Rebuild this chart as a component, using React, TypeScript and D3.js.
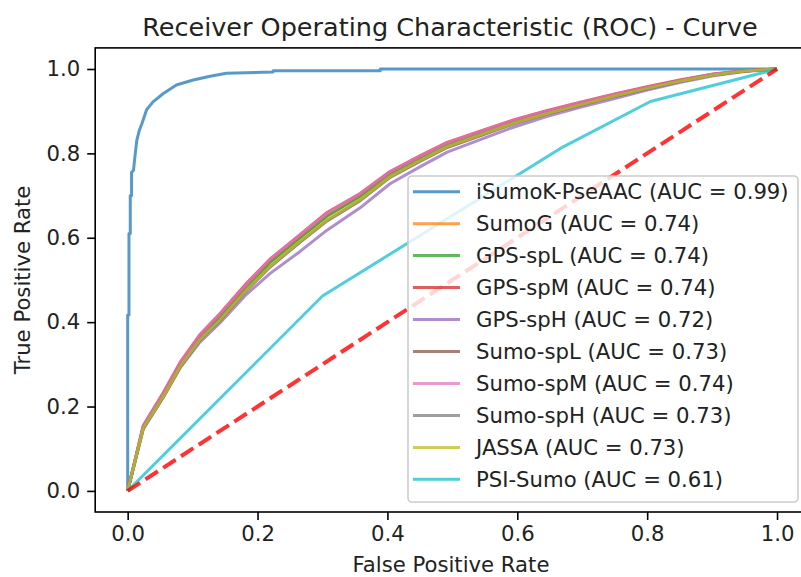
import React, { useRef, useEffect } from "react";
import * as d3 from "d3";

// series names + AUC labels (legend order)
const names = [
  "iSumoK-PseAAC (AUC = 0.99)",
  "SumoG (AUC = 0.74)",
  "GPS-spL (AUC = 0.74)",
  "GPS-spM (AUC = 0.74)",
  "GPS-spH (AUC = 0.72)",
  "Sumo-spL (AUC = 0.73)",
  "Sumo-spM (AUC = 0.74)",
  "Sumo-spH (AUC = 0.73)",
  "JASSA (AUC = 0.73)",
  "PSI-Sumo (AUC = 0.61)",
];
const colors = ["#1f77b4", "#ff7f0e", "#2ca02c", "#d62728", "#9467bd", "#8c564b", "#e377c2", "#7f7f7f", "#bcbd22", "#17becf"];

// iSumoK-PseAAC curve
const isumokFpr = [0, 0, 0.002, 0.002, 0.004, 0.004, 0.006, 0.006, 0.009, 0.011, 0.014, 0.018, 0.022, 0.029, 0.039, 0.055, 0.075, 0.101, 0.127, 0.152, 0.224, 0.224, 0.389, 0.389, 1];
const isumokTpr = [0, 0.417, 0.417, 0.61, 0.61, 0.70, 0.70, 0.755, 0.76, 0.79, 0.83, 0.855, 0.871, 0.903, 0.922, 0.942, 0.962, 0.974, 0.983, 0.99, 0.993, 0.996, 0.996, 1, 1];

// shared fpr grid for the 8 tools that sit close together
const toolFpr = [0, 0.024, 0.055, 0.081, 0.111, 0.142, 0.183, 0.219, 0.265, 0.307, 0.358, 0.404, 0.45, 0.492, 0.545, 0.594, 0.645, 0.697, 0.75, 0.8, 0.85, 0.902, 0.95, 1];
const sumoGTpr = [0, 0.152, 0.229, 0.300, 0.364, 0.413, 0.485, 0.542, 0.600, 0.652, 0.699, 0.752, 0.789, 0.821, 0.850, 0.875, 0.898, 0.918, 0.939, 0.956, 0.972, 0.987, 0.995, 1];
const gpsLTpr = [0, 0.151, 0.228, 0.299, 0.363, 0.412, 0.484, 0.541, 0.599, 0.651, 0.698, 0.751, 0.788, 0.820, 0.849, 0.875, 0.897, 0.918, 0.938, 0.956, 0.972, 0.987, 0.995, 1];
const gpsMTpr = [0, 0.155, 0.233, 0.305, 0.370, 0.420, 0.492, 0.549, 0.607, 0.660, 0.705, 0.757, 0.794, 0.826, 0.854, 0.879, 0.901, 0.921, 0.941, 0.958, 0.974, 0.988, 0.996, 1];
const gpsHTpr = [0, 0.146, 0.222, 0.292, 0.352, 0.398, 0.466, 0.515, 0.567, 0.618, 0.671, 0.728, 0.768, 0.803, 0.834, 0.862, 0.887, 0.909, 0.930, 0.950, 0.968, 0.984, 0.994, 1];
const sumoLTpr = [0, 0.148, 0.223, 0.294, 0.357, 0.404, 0.475, 0.531, 0.589, 0.640, 0.688, 0.743, 0.781, 0.814, 0.843, 0.870, 0.893, 0.914, 0.935, 0.953, 0.970, 0.986, 0.995, 1];
const sumoMTpr = [0, 0.154, 0.232, 0.304, 0.369, 0.419, 0.490, 0.548, 0.606, 0.658, 0.704, 0.756, 0.793, 0.825, 0.853, 0.878, 0.900, 0.920, 0.940, 0.957, 0.973, 0.988, 0.996, 1];
const sumoHTpr = [0, 0.149, 0.224, 0.294, 0.357, 0.404, 0.475, 0.530, 0.589, 0.641, 0.689, 0.744, 0.782, 0.815, 0.844, 0.870, 0.893, 0.914, 0.935, 0.953, 0.971, 0.986, 0.995, 1];
const jassaTpr = [0, 0.149, 0.224, 0.295, 0.358, 0.405, 0.476, 0.532, 0.591, 0.642, 0.690, 0.745, 0.783, 0.816, 0.845, 0.871, 0.894, 0.915, 0.936, 0.954, 0.971, 0.986, 0.995, 1];

// PSI-Sumo has only a few thresholds
const psiFpr = [0, 0.3, 0.67, 0.805, 1];
const psiTpr = [0, 0.462, 0.815, 0.923, 1];

const ticks = [0, 0.2, 0.4, 0.6, 0.8, 1.0];

export default function App() {
  const ref = useRef<SVGSVGElement>(null);

  useEffect(() => {
    const width = 801;
    const height = 577;
    const font = "DejaVu Sans";
    const fs = 21.2;

    const x = d3.scaleLinear().domain([-0.05, 1.05]).range([95.2, 809.5]);
    const y = d3.scaleLinear().domain([-0.05, 1.05]).range([512, 47.9]);

    const svg = d3.select(ref.current).html("").attr("width", width).attr("height", height);

    svg.append("rect").attr("width", width).attr("height", height).attr("fill", "white");

    const clip = svg.append("clipPath").attr("id", "plot-clip");
    clip.append("rect").attr("x", 95.2).attr("y", 47.9).attr("width", 809.5 - 95.2).attr("height", 512 - 47.9);

    const pair = (fpr: number[], tpr: number[]) => fpr.map((v, i) => [v, tpr[i]] as [number, number]);
    const series = [
      pair(isumokFpr, isumokTpr),
      pair(toolFpr, sumoGTpr),
      pair(toolFpr, gpsLTpr),
      pair(toolFpr, gpsMTpr),
      pair(toolFpr, gpsHTpr),
      pair(toolFpr, sumoLTpr),
      pair(toolFpr, sumoMTpr),
      pair(toolFpr, sumoHTpr),
      pair(toolFpr, jassaTpr),
      pair(psiFpr, psiTpr),
    ];

    const line = d3
      .line<[number, number]>()
      .x((d) => x(d[0]))
      .y((d) => y(d[1]));

    const plot = svg.append("g").attr("clip-path", "url(#plot-clip)");

    series.forEach((s, i) => {
      plot
        .append("path")
        .datum(s)
        .attr("fill", "none")
        .attr("stroke", colors[i])
        .attr("stroke-opacity", 0.75)
        .attr("stroke-width", 3)
        .attr("stroke-linejoin", "round")
        .attr("d", line);
    });

    // chance line
    plot
      .append("path")
      .datum([[0, 0], [1, 1]] as [number, number][])
      .attr("fill", "none")
      .attr("stroke", "#ff0000")
      .attr("stroke-opacity", 0.8)
      .attr("stroke-width", 4)
      .attr("stroke-dasharray", "14.8,6.4")
      .attr("d", line);

    // spines
    svg
      .append("rect")
      .attr("x", 95.2)
      .attr("y", 47.9)
      .attr("width", 809.5 - 95.2)
      .attr("height", 512 - 47.9)
      .attr("fill", "none")
      .attr("stroke", "black")
      .attr("stroke-width", 1.6);

    // x axis
    const xAxis = svg
      .append("g")
      .attr("transform", "translate(0,512)")
      .call(d3.axisBottom(x).tickValues(ticks).tickFormat(d3.format(".1f")).tickSize(8).tickPadding(6));
    xAxis.select(".domain").remove();
    xAxis.selectAll("line").attr("stroke", "black").attr("stroke-width", 1.6);
    xAxis.selectAll("text").attr("font-family", font).attr("font-size", fs).attr("fill", "#222");

    // y axis
    const yAxis = svg
      .append("g")
      .attr("transform", "translate(95.2,0)")
      .call(d3.axisLeft(y).tickValues(ticks).tickFormat(d3.format(".1f")).tickSize(8).tickPadding(7));
    yAxis.select(".domain").remove();
    yAxis.selectAll("line").attr("stroke", "black").attr("stroke-width", 1.6);
    yAxis.selectAll("text").attr("font-family", font).attr("font-size", fs).attr("fill", "#222");

    // titles
    svg
      .append("text")
      .attr("x", 450)
      .attr("y", 36)
      .attr("text-anchor", "middle")
      .attr("font-family", font)
      .attr("font-size", 25.5)
      .attr("fill", "#222")
      .text("Receiver Operating Characteristic (ROC) - Curve");

    svg
      .append("text")
      .attr("x", 451)
      .attr("y", 572)
      .attr("text-anchor", "middle")
      .attr("font-family", font)
      .attr("font-size", fs)
      .attr("fill", "#222")
      .text("False Positive Rate");

    svg
      .append("text")
      .attr("transform", "translate(30,280) rotate(-90)")
      .attr("text-anchor", "middle")
      .attr("font-family", font)
      .attr("font-size", fs)
      .attr("fill", "#222")
      .text("True Positive Rate");

    // legend
    const legend = svg.append("g");
    legend
      .append("rect")
      .attr("x", 408)
      .attr("y", 176)
      .attr("width", 390)
      .attr("height", 326)
      .attr("rx", 4)
      .attr("fill", "white")
      .attr("fill-opacity", 0.8)
      .attr("stroke", "#cccccc")
      .attr("stroke-width", 1.6);

    names.forEach((n, i) => {
      const ly = 191.7 + i * 31.96;
      legend
        .append("line")
        .attr("x1", 413)
        .attr("x2", 460)
        .attr("y1", ly)
        .attr("y2", ly)
        .attr("stroke", colors[i])
        .attr("stroke-opacity", 0.75)
        .attr("stroke-width", 3);
      legend
        .append("text")
        .attr("x", 476)
        .attr("y", ly)
        .attr("dy", "0.36em")
        .attr("font-family", font)
        .attr("font-size", fs)
        .attr("fill", "#222")
        .text(n);
    });
  }, []);

  return (
    <div style={{ position: "absolute", left: 0, top: 0 }}>
      <svg ref={ref} style={{ display: "block" }} />
    </div>
  );
}
